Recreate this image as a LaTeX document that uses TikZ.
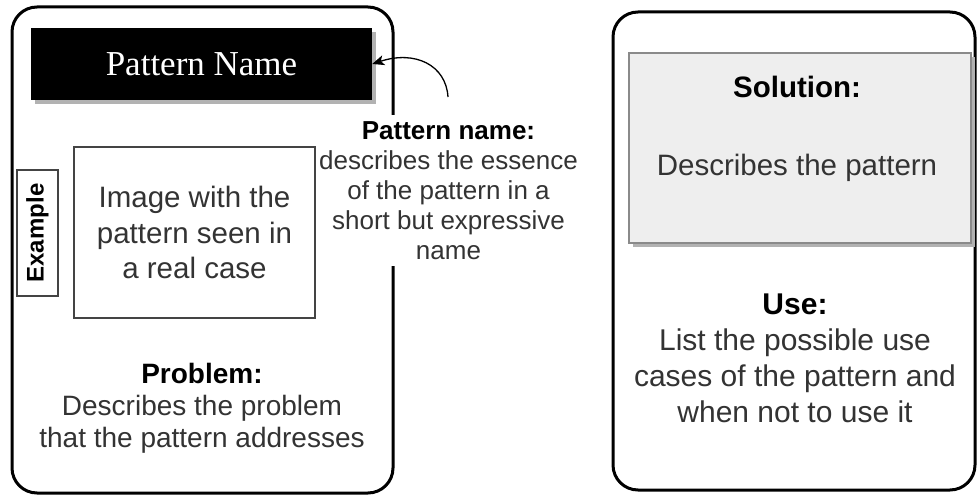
\documentclass[tikz,border=0pt]{standalone}
\usepackage{fontspec}
\newfontfamily\sansf{Liberation Sans}
\newfontfamily\seriff{Liberation Serif}
\usetikzlibrary{arrows.meta,shadows}
\definecolor{txtgray}{HTML}{333333}
\definecolor{boxgray}{HTML}{EEEEEE}
\definecolor{edgegray}{HTML}{8A8A8A}
\definecolor{imgedge}{HTML}{444444}
\begin{document}
\begin{tikzpicture}[x=1pt,y=-1pt,
  card/.style={draw=black, line width=3pt, rounded corners=25pt, fill=white, inner sep=0pt},
  bodytext/.style={align=center, text=txtgray, inner sep=0pt},
  thinbox/.style={draw=imgedge, line width=1.5pt, inner sep=0pt}]
\useasboundingbox (0,0) rectangle (977,495);

% cards
\node[card, minimum width=381pt, minimum height=486pt] (leftcard) at (202.5,250) {};
\node[card, minimum width=362pt, minimum height=478pt] (rightcard) at (794,251) {};

% annotation label (covers the card border)
\node[fill=white, align=center, text=txtgray, inner xsep=3pt, inner ysep=6pt,
      font=\sansf\fontsize{26}{30}\selectfont] (pnlabel) at (448.5,190.5)
  {\textbf{\color{black}Pattern name:}\\describes the essence\\of the pattern in a\\short but expressive\\name};

% image box
\node[thinbox, bodytext, minimum width=241pt, minimum height=171pt,
      font=\sansf\fontsize{29.5}{35.5}\selectfont] (imgbox) at (194.5,232.5)
  {Image with the\\pattern seen in\\a real case};

% example tab
\node[draw=imgedge, line width=1.5pt, rotate=90, minimum width=126pt, minimum height=41pt,
      inner sep=0pt, font=\sansf\bfseries\fontsize{24}{28}\selectfont] (example) at (37.5,233) {Example};

% pattern name bar
\node[fill=black, minimum width=341pt, minimum height=72pt, inner sep=0pt, text=white,
      drop shadow={shadow xshift=4pt, shadow yshift=-4pt, fill=black!30, opacity=1},
      font=\seriff\fontsize{35}{40}\selectfont] (pname) at (201.5,64) {Pattern Name};

% problem text
\node[bodytext, font=\sansf\fontsize{28}{32}\selectfont] (problem) at (202,408)
  {\textbf{\color{black}Problem:}\\Describes the problem\\that the pattern addresses};

% solution box
\node[fill=boxgray, draw=edgegray, line width=1.5pt, minimum width=342pt, minimum height=190pt,
      inner sep=0pt, drop shadow={shadow xshift=4pt, shadow yshift=-4pt, fill=black!30, opacity=1}]
      (solbox) at (800,148) {};
\node[bodytext, font=\sansf\fontsize{29.5}{35.5}\selectfont] (soltext) at (797,128.8)
  {\textbf{\color{black}Solution:}\\[43pt]Describes the pattern};

% use text
\node[bodytext, font=\sansf\fontsize{30}{36}\selectfont] (usetext) at (795,358)
  {\textbf{\color{black}Use:}\\List the possible use\\cases of the pattern and\\when not to use it};

% curved arrow
\coordinate (arrstart) at (448,97);
\draw[line width=1.3pt, -{Stealth[length=12pt, width=10pt, inset=3pt]}]
  (arrstart) .. controls (446,65) and (415,50) .. (pname.east);
\end{tikzpicture}
\end{document}
